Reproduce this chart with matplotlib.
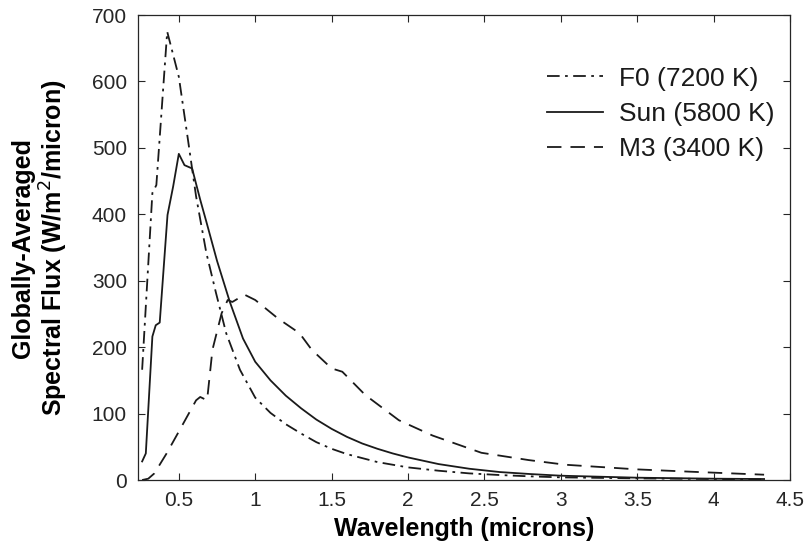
import matplotlib
matplotlib.use("Agg")
import matplotlib.pyplot as plt

plt.rcParams['font.family'] = ['Liberation Sans', 'DejaVu Sans']

# F0 star (7200 K)
wl_f0 = [0.26, 0.327, 0.353, 0.424, 0.5, 0.56, 0.613, 0.68, 0.744, 0.81, 0.9, 1.0,
         1.1, 1.2, 1.3, 1.4, 1.5, 1.6, 1.7, 1.8, 2.0, 2.2, 2.4, 2.6, 2.8, 3.0,
         3.5, 4.0, 4.33]
flux_f0 = [166, 432, 444, 675, 607, 512, 427, 342, 281, 221, 166, 124,
           101, 84, 70, 57, 47, 39, 33, 27, 19, 14, 10, 7.5, 5.5, 4,
           2.5, 1.5, 1.0]

# Sun (5800 K)
wl_sun = [0.26, 0.284, 0.327, 0.349, 0.375, 0.426, 0.463, 0.5, 0.537, 0.587, 0.64,
          0.68, 0.75, 0.834, 0.92, 1.0, 1.1, 1.2, 1.3, 1.4, 1.5, 1.6, 1.7, 1.8,
          1.9, 2.0, 2.2, 2.4, 2.6, 2.8, 3.0, 3.5, 4.0, 4.33]
flux_sun = [28, 40, 216, 233, 237, 399, 442, 491, 474, 469, 422,
            389, 330, 268, 213, 178, 150, 127, 108, 91, 77, 65, 55, 47,
            40, 34, 24, 17, 12, 9, 6.5, 3.5, 2, 1.5]

# M3 star (3400 K)
wl_m3 = [0.26, 0.30, 0.34, 0.42, 0.505, 0.613, 0.64, 0.685, 0.72, 0.78, 0.82, 0.85,
         0.93, 1.0, 1.15, 1.29, 1.37, 1.50, 1.57, 1.72, 1.94, 2.16, 2.48, 2.79,
         3.03, 3.5, 3.85, 4.33]
flux_m3 = [0, 2, 10, 40, 75, 120, 125, 120, 196, 251, 271, 268,
           279, 271, 243, 221, 196, 168, 163, 128, 90, 67, 41, 30,
           23, 16, 12.5, 8]

labels = ['F0 (7200 K)', 'Sun (5800 K)', 'M3 (3400 K)']
xticks = [0.5, 1, 1.5, 2, 2.5, 3, 3.5, 4, 4.5]
xtick_labels = ['0.5', '1', '1.5', '2', '2.5', '3', '3.5', '4', '4.5']
yticks = [0, 100, 200, 300, 400, 500, 600, 700]

fig = plt.figure(figsize=(8.09, 5.52), dpi=100)
ax = fig.add_axes([0.1706, 0.1304, 0.806, 0.8424])

lc = '#1a1a1a'
ax.plot(wl_f0, flux_f0, color=lc, lw=1.3, dashes=(7, 3, 1.5, 3), label=labels[0])
ax.plot(wl_sun, flux_sun, color=lc, lw=1.3, ls='-', label=labels[1])
ax.plot(wl_m3, flux_m3, color=lc, lw=1.3, dashes=(8, 5), label=labels[2])

ax.set_xlim(0.233, 4.5)
ax.set_ylim(0, 700)
ax.set_xticks(xticks)
ax.set_xticklabels(xtick_labels)
ax.set_yticks(yticks)
ax.tick_params(direction='in', length=5, width=0.8, top=True, right=True,
               labelsize=15, colors='#262626', pad=8)
for s in ax.spines.values():
    s.set_color('#262626')
    s.set_linewidth(0.9)

ax.set_xlabel('Wavelength (microns)', fontsize=18, fontweight='bold', labelpad=5)
ax.set_ylabel('Globally-Averaged\nSpectral Flux (W/m$^2$/micron)', fontsize=18,
              fontweight='bold', labelpad=16, linespacing=1.1)

leg = ax.legend(loc='upper right', bbox_to_anchor=(1.012, 0.94), frameon=False,
                fontsize=19, handlelength=2.1, handletextpad=0.6,
                labelspacing=0.42)
for t in leg.get_texts():
    t.set_color('#1a1a1a')

fig.savefig('out.png', dpi=100)
